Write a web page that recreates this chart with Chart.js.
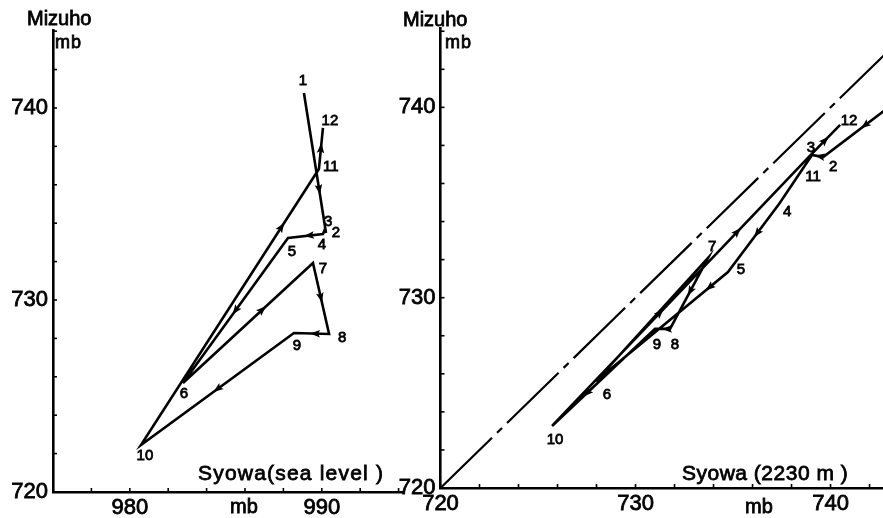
<!DOCTYPE html>
<html>
<head>
<meta charset="utf-8">
<script src="https://cdn.jsdelivr.net/npm/chart.js@4.4.0/dist/chart.umd.min.js"></script>
<style>
  html, body { margin: 0; padding: 0; background: #fff; }
  #wrap { position: relative; width: 883px; height: 518px; }
  canvas { position: absolute; left: 0; top: 0; }
</style>
</head>
<body>
<div id="wrap">
  <canvas id="leftChart" width="883" height="518"></canvas>
  <canvas id="rightChart" width="883" height="518"></canvas>
</div>
<script>
// 월 번호
const months = [1, 2, 3, 4, 5, 6, 7, 8, 9, 10, 11, 12];

// 왼쪽 그림: Syowa (해면) - Mizuho
const leftSyowa  = [989.07, 990.22, 990.17, 990.06, 988.24, 982.77, 989.54, 990.38, 988.55, 980.58, 989.85, 990.06];
const leftMizuho = [740.78, 733.49, 733.70, 733.44, 733.23, 725.68, 731.93, 728.23, 728.28, 722.45, 736.82, 738.96];
const leftXTicks = [980, 990];
const leftYTicks = [720, 730, 740];

// 오른쪽 그림: Syowa (2230 m) - Mizuho
const rightSyowa  = [744.0, 739.62, 739.05, 737.36, 734.74, 727.97, 733.72, 731.77, 731.0, 725.72, 738.74, 740.49];
const rightMizuho = [740.8, 737.39, 737.50, 734.92, 731.35, 725.62, 732.09, 728.36, 728.36, 723.26, 737.24, 739.08];
const rightXTicks = [720, 730, 740];
const rightYTicks = [720, 730, 740];
const diagonal = [720, 750];

// 화살표: [구간 시작 인덱스, 위치 비율]
const leftArrows = [[0, 0.69], [3, 0.4], [4, 0.5], [5, 0.61], [6, 0.49], [7, 0.4], [8, 0.5], [9, 0.79], [10, 0.51]];
const rightArrows = [[0, 0.51], [1, 0.3], [3, 0.43], [4, 0.14], [6, 0.47], [7, 0.2], [8, 0.66], [9, 0.425], [9, 0.73], [10, 0.56]];

// 월 라벨 위치 (점 기준 픽셀)
const leftLabelOffsets = [[-1, -12], [10, 0], [3, -7], [-1, 11], [4, 14], [1, 11], [10, 6], [13, 4], [3, 13], [4, 11], [12, -2], [7, -7]];
const rightLabelOffsets = [[0, 0], [10, 10], [-1, -7], [8, 8], [13, -2], [11, 14], [4, -11], [5, 16], [2, 16], [3, 14], [7, 17], [9, -4]];

const FONT = "'Liberation Sans', Arial, sans-serif";

// 글자 (약간 굵게)
function drawText(ctx, text, x, y) {
    ctx.lineWidth = 0.8;
    ctx.strokeText(text, x, y);
    ctx.fillText(text, x, y);
}

// 장식 플러그인: 눈금, 화살표, 월 라벨, 제목
const decorPlugin = {
    id: 'decor',
    afterDatasetsDraw(chart, args, opts) {
        const { ctx, chartArea: a, scales: { x, y } } = chart;
        const pts = opts.xs.map((v, i) => ({ x: x.getPixelForValue(v), y: y.getPixelForValue(opts.ys[i]) }));

        ctx.save();
        ctx.strokeStyle = '#000';
        ctx.fillStyle = '#000';
        ctx.lineWidth = 1.6;

        // 작은 눈금 (2 mb 간격, 안쪽)
        for (let v = Math.ceil(x.min / 2) * 2; v <= x.max; v += 2) {
            const px = x.getPixelForValue(v);
            ctx.beginPath();
            ctx.moveTo(px, a.bottom);
            ctx.lineTo(px, a.bottom - 4);
            ctx.stroke();
        }
        for (let v = Math.ceil(y.min / 2) * 2; v <= y.max; v += 2) {
            const py = y.getPixelForValue(v);
            ctx.beginPath();
            ctx.moveTo(a.left, py);
            ctx.lineTo(a.left + 4, py);
            ctx.stroke();
        }

        // 화살표
        ctx.save();
        ctx.beginPath();
        ctx.rect(a.left, a.top, a.right - a.left, a.bottom - a.top);
        ctx.clip();
        opts.arrows.forEach(([i, f]) => {
            const p = pts[i], q = pts[i + 1];
            const cx = p.x + (q.x - p.x) * f;
            const cy = p.y + (q.y - p.y) * f;
            const ang = Math.atan2(q.y - p.y, q.x - p.x);
            ctx.save();
            ctx.translate(cx, cy);
            ctx.rotate(ang);
            ctx.beginPath();
            ctx.moveTo(5, 0);
            ctx.lineTo(-5, -3.8);
            ctx.lineTo(-3, 0);
            ctx.lineTo(-5, 3.8);
            ctx.closePath();
            ctx.fill();
            ctx.restore();
        });
        ctx.restore();

        // 월 라벨
        ctx.font = '15px ' + FONT;
        ctx.textAlign = 'center';
        ctx.textBaseline = 'middle';
        months.forEach((m, i) => {
            const p = pts[i];
            if (p.x < a.left || p.x > a.right || p.y < a.top || p.y > a.bottom) return;
            const [dx, dy] = opts.labelOffsets[i];
            drawText(ctx, String(m), p.x + dx, p.y + dy);
        });

        // 제목
        ctx.textAlign = 'left';
        ctx.textBaseline = 'alphabetic';
        opts.texts.forEach(t => {
            ctx.font = t.size + 'px ' + FONT;
            ctx.letterSpacing = (t.ls || 0) + 'px';
            drawText(ctx, t.text, t.x, t.y);
        });
        ctx.restore();
    }
};

// 차트 생성 함수
function makeChart(canvasId, cfg) {
    const ctx = document.getElementById(canvasId).getContext('2d');
    const tickFont = { family: FONT, size: 22 };
    const datasets = [{
        data: cfg.xs.map((v, i) => ({ x: v, y: cfg.ys[i] })),
        showLine: true,
        borderColor: '#000',
        borderWidth: 2.6,
        pointRadius: 0,
        tension: 0
    }];
    if (cfg.diagonal) {
        datasets.push({
            data: cfg.diagonal.map(v => ({ x: v, y: v })),
            showLine: true,
            borderColor: '#000',
            borderWidth: 2.2,
            borderDash: [72, 7, 7, 7],
            pointRadius: 0
        });
    }
    return new Chart(ctx, {
        type: 'scatter',
        data: { datasets },
        options: {
            responsive: false,
            animation: false,
            events: [],
            layout: { padding: cfg.padding },
            plugins: {
                legend: { display: false },
                tooltip: { enabled: false },
                decor: {
                    xs: cfg.xs, ys: cfg.ys, arrows: cfg.arrows,
                    labelOffsets: cfg.labelOffsets, texts: cfg.texts
                }
            },
            scales: {
                x: {
                    type: 'linear',
                    min: cfg.xMin, max: cfg.xMax,
                    afterFit: s => { s.height = cfg.xHeight; },
                    afterBuildTicks: s => { s.ticks = cfg.xTicks.map(v => ({ value: v })); },
                    grid: { display: false, drawTicks: false },
                    border: { display: true, color: '#000', width: 2.6 },
                    ticks: {
                        color: '#000', font: tickFont, padding: 3, maxRotation: 0, autoSkip: false,
                        textStrokeColor: '#000', textStrokeWidth: 0.8
                    }
                },
                y: {
                    type: 'linear',
                    min: cfg.yMin, max: cfg.yMax,
                    afterFit: s => { s.width = cfg.yWidth; },
                    afterBuildTicks: s => { s.ticks = cfg.yTicks.map(v => ({ value: v })); },
                    grid: { display: false, drawTicks: false },
                    border: { display: true, color: '#000', width: 2.6 },
                    ticks: {
                        color: '#000', font: tickFont, padding: 5, autoSkip: false,
                        textStrokeColor: '#000', textStrokeWidth: 0.8
                    }
                }
            }
        },
        plugins: [decorPlugin]
    });
}

document.addEventListener('DOMContentLoaded', () => {
    // 왼쪽 그림
    makeChart('leftChart', {
        xs: leftSyowa, ys: leftMizuho,
        xMin: 976, xMax: 994.23, yMin: 720, yMax: 744.06,
        xTicks: leftXTicks, yTicks: leftYTicks,
        padding: { left: 0, top: 30, right: 480, bottom: 0 },
        xHeight: 26, yWidth: 53,
        arrows: leftArrows, labelOffsets: leftLabelOffsets,
        texts: [
            { text: 'Mizuho', x: 27, y: 25, size: 20 },
            { text: 'mb', x: 55, y: 48, size: 18, ls: 1 },
            { text: 'Syowa(sea level )', x: 198, y: 480, size: 21, ls: 1.2 },
            { text: 'mb', x: 230, y: 513, size: 20 }
        ]
    });

    // 오른쪽 그림
    makeChart('rightChart', {
        xs: rightSyowa, ys: rightMizuho,
        xMin: 720, xMax: 742.69, yMin: 720, yMax: 744.17,
        xTicks: rightXTicks, yTicks: rightYTicks,
        padding: { left: 393.5, top: 28, right: 0, bottom: 0 },
        xHeight: 30, yWidth: 47,
        arrows: rightArrows, labelOffsets: rightLabelOffsets,
        diagonal: diagonal,
        texts: [
            { text: 'Mizuho', x: 403, y: 26, size: 20 },
            { text: 'mb', x: 445, y: 48, size: 18, ls: 1 },
            { text: 'Syowa (2230 m )', x: 682, y: 480, size: 21, ls: 0.5 },
            { text: 'mb', x: 745, y: 513, size: 20 }
        ]
    });
});
</script>
</body>
</html>
